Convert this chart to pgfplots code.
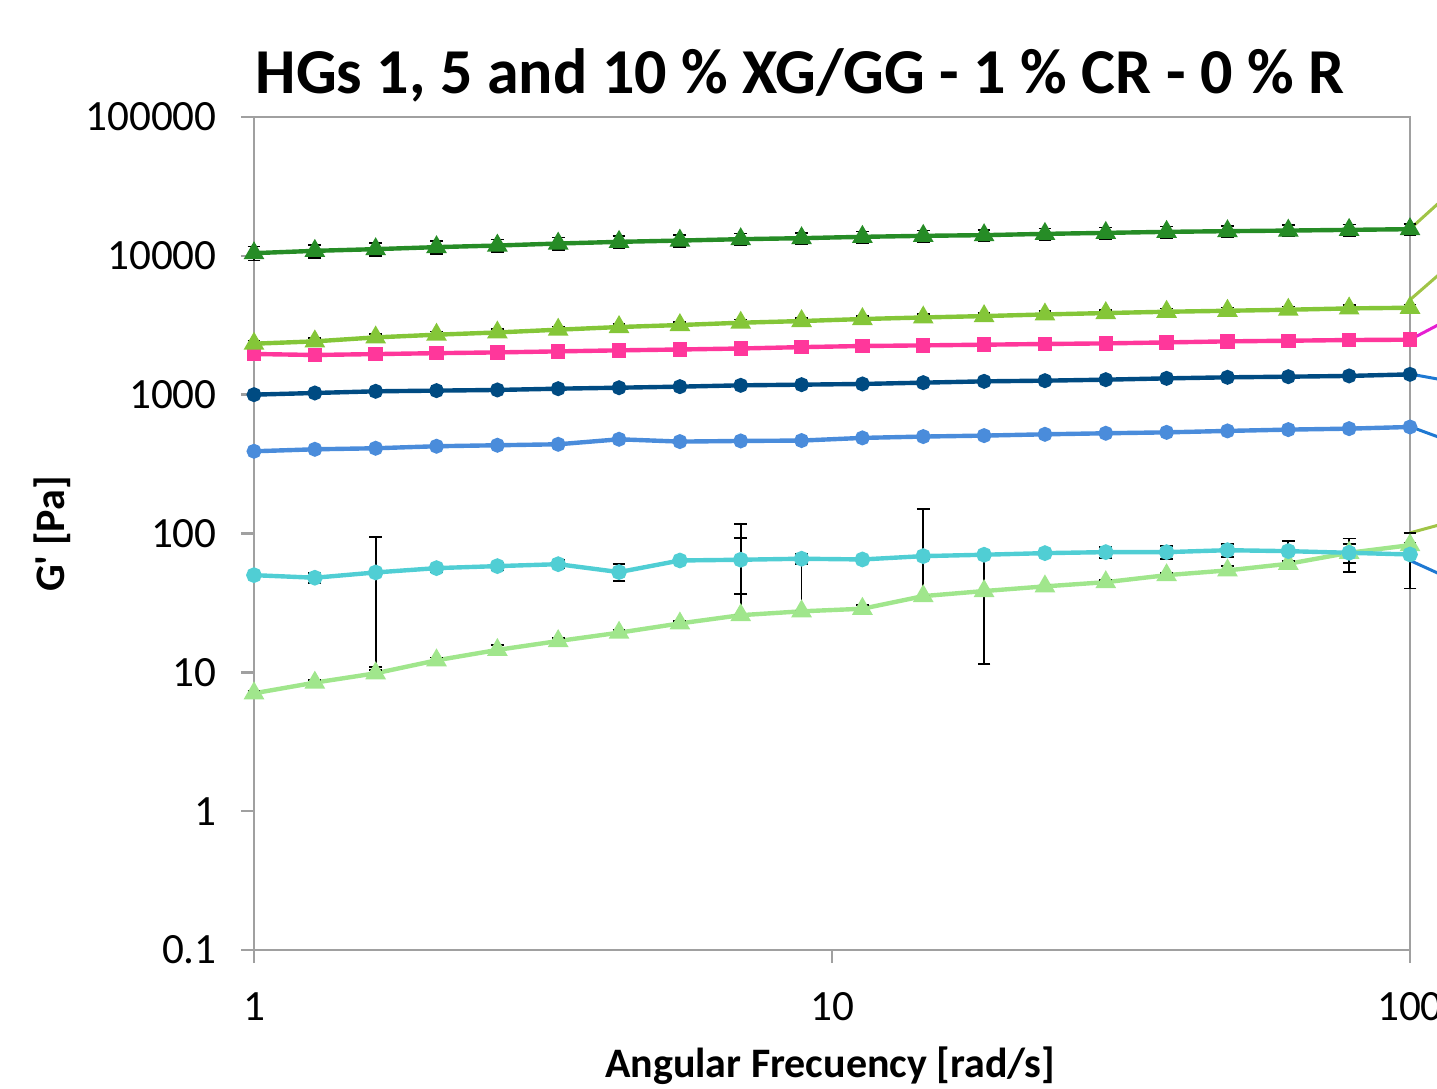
\documentclass[border=0pt]{standalone}
\usepackage{fontspec}
\setmainfont{Carlito}
\usepackage{pgfplots}
\pgfplotsset{compat=1.18}

\definecolor{dgreen}{RGB}{38,140,38}
\definecolor{lgreen}{RGB}{132,198,56}
\definecolor{pinkc}{RGB}{255,55,155}
\definecolor{navyc}{RGB}{0,75,130}
\definecolor{bluec}{RGB}{74,140,219}
\definecolor{cyanc}{RGB}{80,206,212}
\definecolor{paleg}{RGB}{160,230,140}
\definecolor{olivec}{RGB}{160,196,70}
\definecolor{magc}{RGB}{230,30,210}
\definecolor{extblue}{RGB}{30,120,210}
\definecolor{axgray}{RGB}{160,160,160}

\pgfplotsset{
  ser/.style={line width=1.1pt, mark options={solid}},
  eb/.style={error bars/.cd, y dir=both, y explicit,
    error bar style={black, line width=0.45pt},
    error mark options={rotate=90, black, mark size=1.6pt, line width=0.45pt}},
  ext/.style={line width=0.75pt, mark=none},
}

\begin{document}
\begin{tikzpicture}
\useasboundingbox (0,0) rectangle (359.25pt,272.25pt);
\clip (0,0) rectangle (359.25pt,272.25pt);
\begin{axis}[
  at={(63.5pt,34.75pt)}, anchor=south west,
  scale only axis, width=289pt, height=208.25pt,
  xmode=log, ymode=log,
  xmin=1, xmax=100, ymin=0.1, ymax=100000,
  xtick={1,10,100}, xticklabels={1,10,100},
  ytick={0.1,1,10,100,1000,10000,100000},
  yticklabels={0.1,1,10,100,1000,10000,100000},
  xminorticks=false, yminorticks=false,
  tick align=outside, xtick pos=left, ytick pos=left,
  major tick length=3.3pt,
  axis line style={draw=axgray, line width=0.6pt},
  tick style={draw=axgray, line width=0.6pt},
  tick label style={font=\fontsize{10.8}{12}\selectfont},
  yticklabel style={xshift=-2.5pt},
  xticklabel style={yshift=-3.75pt},
  /pgf/number format/assume math mode=true,
  clip=false,
]
% extension segments beyond 100
\addplot[ext, olivec] coordinates {(100,15600) (127.43,38900)};
\addplot[ext, olivec] coordinates {(100,4823) (127.43,11610)};
\addplot[ext, magc] coordinates {(100,2488) (127.43,4227)};
\addplot[ext, extblue] coordinates {(100,1409) (127.43,1172)};
\addplot[ext, extblue] coordinates {(100,589) (127.43,406)};
\addplot[ext, extblue] coordinates {(100,63.9) (127.43,40.4)};
\addplot[ext, olivec] coordinates {(100,101) (127.43,133)};

% pale green
\addplot[ser, paleg, mark=triangle*, mark size=1.9pt, eb] coordinates {
(1,7.06) +- (0,0.3)
(1.2743,8.43) +- (0,0.4)
(1.6238,9.84) +- (0,0.5)
(2.0691,12.2) +- (0,0.6)
(2.6367,14.5) +- (0,1.25)
(3.3598,16.8) +- (0,0.8)
(4.2813,19.3) +- (0,1.0)
(5.4556,22.5) +- (0,0.8)
(6.9519,25.8) += (0,91) -= (0,0)
(8.8587,27.5) += (0,33) -= (0,0)
(11.288,28.7) +- (0,1.8)
(14.384,35.4) += (0,115) -= (0,0)
(18.330,38.5) +- (0,27)
(23.357,41.6) +- (0,1.2)
(29.764,44.6) +- (0,1.5)
(37.927,50.1) +- (0,1.5)
(48.329,54.2) +- (0,4)
(61.585,60.5) +- (0,3)
(78.476,72.6) +- (0,11.5)
(100,82.4) +- (0,3)
};
% cyan
\addplot[ser, cyanc, mark=*, mark size=1.4pt, eb] coordinates {
(1,50.1) +- (0,3.4)
(1.2743,48.0) +- (0,4.1)
(1.6238,52.4) +- (0,41.5)
(2.0691,56.3) +- (0,3.5)
(2.6367,58.2) +- (0,3.5)
(3.3598,60.1) +- (0,4)
(4.2813,52.7) +- (0,7.5)
(5.4556,63.9) +- (0,2)
(6.9519,64.7) +- (0,28)
(8.8587,65.8) +- (0,5)
(11.288,65.0) +- (0,2)
(14.384,68.7) +- (0,3)
(18.330,70.3) +- (0,3)
(23.357,72.2) +- (0,2)
(29.764,73.4) +- (0,7)
(37.927,73.4) +- (0,7.5)
(48.329,75.8) +- (0,8.4)
(61.585,74.6) +- (0,14)
(78.476,72.6) +- (0,19.5)
(100,70.6) +- (0,30.5)
};
% blue
\addplot[ser, bluec, mark=*, mark size=1.3pt] coordinates {
(1,391) (1.2743,404) (1.6238,411) (2.0691,425) (2.6367,432) (3.3598,439)
(4.2813,477) (5.4556,459) (6.9519,464) (8.8587,467) (11.288,488) (14.384,499)
(18.330,507) (23.357,518) (29.764,527) (37.927,535) (48.329,548) (61.585,560)
(78.476,569) (100,585)
};
% navy
\addplot[ser, navyc, mark=*, mark size=1.3pt] coordinates {
(1,1000) (1.2743,1028) (1.6238,1057) (2.0691,1069) (2.6367,1081) (3.3598,1104)
(4.2813,1122) (5.4556,1142) (6.9519,1167) (8.8587,1180) (11.288,1194) (14.384,1220)
(18.330,1247) (23.357,1261) (29.764,1282) (37.927,1310) (48.329,1333) (61.585,1347)
(78.476,1364) (100,1400)
};
% pink
\addplot[ser, pinkc, mark=square*, mark size=1.25pt] coordinates {
(1,1963) (1.2743,1931) (1.6238,1960) (2.0691,1990) (2.6367,2015) (3.3598,2050)
(4.2813,2085) (5.4556,2115) (6.9519,2150) (8.8587,2200) (11.288,2240) (14.384,2264)
(18.330,2290) (23.357,2317) (29.764,2340) (37.927,2378) (48.329,2420) (61.585,2446)
(78.476,2474) (100,2488)
};
% light green
\addplot[ser, lgreen, mark=triangle*, mark size=1.9pt, eb] coordinates {
(1,2328) +- (0,128)
(1.2743,2420) +- (0,133)
(1.6238,2585) +- (0,142)
(2.0691,2703) +- (0,149)
(2.6367,2806) +- (0,154)
(3.3598,2937) +- (0,162)
(4.2813,3070) +- (0,169)
(5.4556,3173) +- (0,175)
(6.9519,3297) +- (0,181)
(8.8587,3390) +- (0,186)
(11.288,3505) +- (0,193)
(14.384,3598) +- (0,198)
(18.330,3681) +- (0,202)
(23.357,3783) +- (0,208)
(29.764,3871) +- (0,213)
(37.927,3955) +- (0,218)
(48.329,4020) +- (0,221)
(61.585,4090) +- (0,225)
(78.476,4180) +- (0,230)
(100,4226) +- (0,232)
};
% dark green
\addplot[ser, dgreen, mark=triangle*, mark size=1.9pt, eb] coordinates {
(1,10450) +- (0,1210)
(1.2743,10860) +- (0,1180)
(1.6238,11170) +- (0,1190)
(2.0691,11550) +- (0,1250)
(2.6367,11860) +- (0,1260)
(3.3598,12260) +- (0,1270)
(4.2813,12610) +- (0,1280)
(5.4556,12880) +- (0,1280)
(6.9519,13180) +- (0,1280)
(8.8587,13400) +- (0,1280)
(11.288,13700) +- (0,1280)
(14.384,13930) +- (0,1300)
(18.330,14090) +- (0,1320)
(23.357,14390) +- (0,1340)
(29.764,14630) +- (0,1360)
(37.927,14880) +- (0,1380)
(48.329,15050) +- (0,1400)
(61.585,15200) +- (0,1420)
(78.476,15380) +- (0,1440)
(100,15560) +- (0,1450)
};
\end{axis}
\node[anchor=base, font=\bfseries\fontsize{16}{19}\selectfont] at (200pt,248.9pt) {HGs 1, 5 and 10 \% XG/GG - 1 \% CR - 0 \% R};
\node[rotate=90, font=\bfseries\fontsize{10.5}{12}\selectfont] at (13pt,138.75pt) {G\textquotesingle{} [Pa]};
\node[anchor=base, font=\bfseries\fontsize{10.5}{12}\selectfont] at (207.5pt,2.75pt) {Angular Frecuency [rad/s]};
\end{tikzpicture}
\end{document}
